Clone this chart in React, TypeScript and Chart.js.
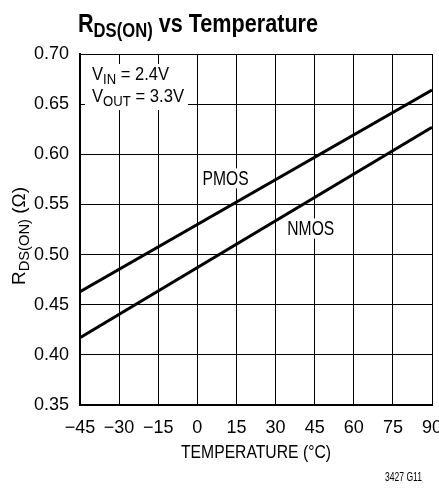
import { useEffect, useRef } from "react";
import { Chart, registerables } from "chart.js";

Chart.register(...registerables);

const temperatures = [-45, 90];
const pmosValues = [0.463, 0.664];
const nmosValues = [0.417, 0.627];
const xTickValues = [-45, -30, -15, 0, 15, 30, 45, 60, 75, 90];
const yTickValues = [0.35, 0.4, 0.45, 0.5, 0.55, 0.6, 0.65, 0.7];

const FONT = "'Liberation Sans', Arial, Helvetica, sans-serif";

type Part = { t: string; size: number; dy: number; bold?: boolean };

function partsWidth(ctx: CanvasRenderingContext2D, parts: Part[]) {
  let w = 0;
  for (const p of parts) {
    ctx.font = `${p.bold ? "bold " : ""}${p.size}px ${FONT}`;
    w += ctx.measureText(p.t).width;
  }
  return w;
}

// Draw a run of text parts (with subscript offsets) starting at x (left) on baseline y,
// horizontally condensed so the run occupies `width` pixels.
function drawFit(ctx: CanvasRenderingContext2D, parts: Part[], x: number, y: number, width: number) {
  const natural = partsWidth(ctx, parts);
  const s = width / natural;
  ctx.save();
  ctx.translate(x, y);
  ctx.scale(s, 1);
  ctx.textBaseline = "alphabetic";
  ctx.textAlign = "left";
  let cx = 0;
  for (const p of parts) {
    ctx.font = `${p.bold ? "bold " : ""}${p.size}px ${FONT}`;
    ctx.fillText(p.t, cx, p.dy);
    cx += ctx.measureText(p.t).width;
  }
  ctx.restore();
}

const PMOS_LABEL = { t: 2.0, v: 0.576 };
const NMOS_LABEL = { t: 34.5, v: 0.526 };

const annotationPlugin = {
  id: "annotations",
  beforeDatasetsDraw(chart: any) {
    const ctx: CanvasRenderingContext2D = chart.ctx;
    const x = chart.scales.x;
    const y = chart.scales.y;
    ctx.save();
    ctx.fillStyle = "#ffffff";
    // legend text box
    ctx.fillRect(85, 64, 103, 46);
    // label boxes
    const pX = x.getPixelForValue(PMOS_LABEL.t);
    const pY = y.getPixelForValue(PMOS_LABEL.v);
    ctx.fillRect(pX - 3, pY - 10, 52, 20);
    const nX = x.getPixelForValue(NMOS_LABEL.t);
    const nY = y.getPixelForValue(NMOS_LABEL.v);
    ctx.fillRect(nX - 3, nY - 10, 53, 20);
    ctx.restore();
  },
  afterDraw(chart: any) {
    const ctx: CanvasRenderingContext2D = chart.ctx;
    const x = chart.scales.x;
    const y = chart.scales.y;
    ctx.save();
    ctx.fillStyle = "#000";
    // Title
    drawFit(
      ctx,
      [
        { t: "R", size: 26, dy: 0, bold: true },
        { t: "DS(ON)", size: 20, dy: 5, bold: true },
        { t: " vs Temperature", size: 26, dy: 0, bold: true },
      ],
      78,
      32,
      240
    );
    // Legend
    drawFit(
      ctx,
      [
        { t: "V", size: 19, dy: 0 },
        { t: "IN", size: 15, dy: 4 },
        { t: " = 2.4V", size: 19, dy: 0 },
      ],
      92,
      80,
      77
    );
    drawFit(
      ctx,
      [
        { t: "V", size: 19, dy: 0 },
        { t: "OUT", size: 15, dy: 4 },
        { t: " = 3.3V", size: 19, dy: 0 },
      ],
      92,
      102,
      92
    );
    // Line labels
    const pX = x.getPixelForValue(PMOS_LABEL.t);
    const pY = y.getPixelForValue(PMOS_LABEL.v);
    drawFit(ctx, [{ t: "PMOS", size: 20, dy: 0 }], pX, pY + 7, 46);
    const nX = x.getPixelForValue(NMOS_LABEL.t);
    const nY = y.getPixelForValue(NMOS_LABEL.v);
    drawFit(ctx, [{ t: "NMOS", size: 20, dy: 0 }], nX, nY + 7, 47);
    // X axis title
    const cx = (x.left + x.right) / 2;
    drawFit(ctx, [{ t: "TEMPERATURE (\u00B0C)", size: 19, dy: 0 }], cx - 75, 458, 150);
    // Figure id
    drawFit(ctx, [{ t: "3427 G11", size: 12, dy: 0 }], 385, 481, 37);
    // Y axis title, rotated
    ctx.translate(25, 236);
    ctx.rotate(-Math.PI / 2);
    drawFit(
      ctx,
      [
        { t: "R", size: 18, dy: 0 },
        { t: "DS(ON)", size: 14, dy: 4 },
        { t: " (\u03A9)", size: 18, dy: 0 },
      ],
      -49,
      0,
      98
    );
    ctx.restore();
  },
};

export default function App() {
  const canvasRef = useRef<HTMLCanvasElement | null>(null);

  useEffect(() => {
    document.body.style.margin = "0";
    const canvas = canvasRef.current;
    if (!canvas) return;
    const chart = new Chart(canvas, {
      type: "line",
      data: {
        datasets: [
          {
            label: "PMOS",
            data: temperatures.map((t, i) => ({ x: t, y: pmosValues[i] })),
            borderColor: "#000",
            borderWidth: 3,
            pointRadius: 0,
            fill: false,
          },
          {
            label: "NMOS",
            data: temperatures.map((t, i) => ({ x: t, y: nmosValues[i] })),
            borderColor: "#000",
            borderWidth: 3,
            pointRadius: 0,
            fill: false,
          },
        ],
      },
      options: {
        responsive: false,
        animation: false,
        devicePixelRatio: 1,
        layout: { padding: { top: 54, right: 7, left: 0, bottom: 0 } },
        plugins: {
          legend: { display: false },
          tooltip: { enabled: false },
          title: { display: false },
        },
        scales: {
          x: {
            type: "linear",
            min: -45,
            max: 90,
            afterBuildTicks: (scale: any) => {
              scale.ticks = xTickValues.map((v) => ({ value: v }));
            },
            afterFit: (scale: any) => {
              scale.height = 86;
              scale.paddingLeft = 0;
              scale.paddingRight = 0;
            },
            grid: { color: "#000", lineWidth: 1, drawTicks: false },
            border: { display: true, color: "#000", width: 2 },
            ticks: {
              color: "#000",
              padding: 12,
              maxRotation: 0,
              autoSkip: false,
              font: { family: FONT, size: 18 },
              callback: (v: any) => (Number(v) < 0 ? "\u2212" + Math.abs(Number(v)) : String(v)),
            },
          },
          y: {
            type: "linear",
            min: 0.35,
            max: 0.7,
            afterBuildTicks: (scale: any) => {
              scale.ticks = yTickValues.map((v) => ({ value: v }));
            },
            afterFit: (scale: any) => {
              scale.width = 80;
              scale.paddingTop = 0;
              scale.paddingBottom = 0;
            },
            grid: { color: "#000", lineWidth: 1, drawTicks: false },
            border: { display: true, color: "#000", width: 2 },
            ticks: {
              color: "#000",
              padding: 11,
              autoSkip: false,
              font: { family: FONT, size: 18 },
              callback: (v: any) => Number(v).toFixed(2),
            },
          },
        },
      },
      plugins: [annotationPlugin],
    } as any);
    return () => chart.destroy();
  }, []);

  return (
    <div style={{ width: 439, height: 491, position: "relative" }}>
      <canvas ref={canvasRef} width={439} height={491} style={{ width: 439, height: 491, display: "block" }} />
    </div>
  );
}
